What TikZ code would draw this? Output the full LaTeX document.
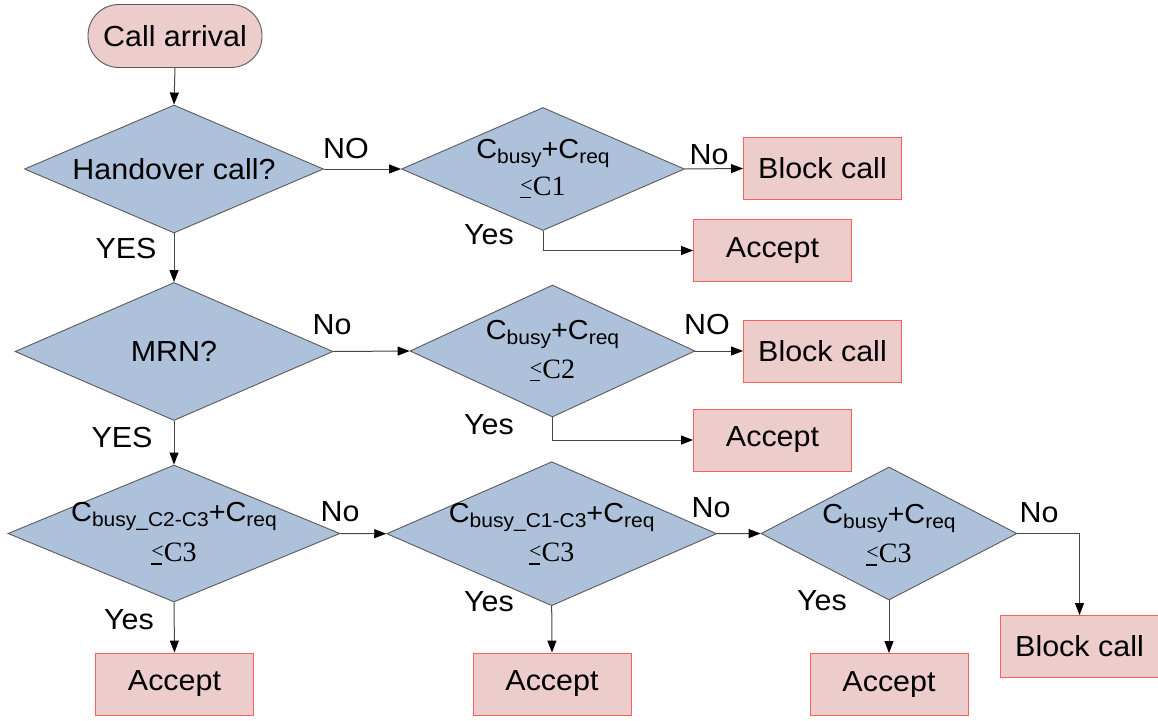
\documentclass[tikz,border=0pt]{standalone}
\usepackage{fontspec}
\setmainfont{Liberation Sans}[FakeStretch=1.05]
\newfontfamily\serifC{Liberation Serif}
\usetikzlibrary{shapes.geometric,arrows.meta}
\definecolor{diafill}{RGB}{174,193,218}
\definecolor{diaedge}{RGB}{90,90,90}
\definecolor{boxfill}{RGB}{237,204,204}
\definecolor{boxedge}{RGB}{250,95,95}
\definecolor{lineclr}{RGB}{70,70,70}
\newcommand{\mainsz}{\fontsize{29}{32}\selectfont}
\newcommand{\csz}{\fontsize{27.5}{30}\selectfont}
\newcommand{\subsz}{\fontsize{20}{20}\selectfont}
\newcommand{\Csub}[1]{C\raisebox{-5pt}{\subsz #1}}
\newcommand{\leqmark}{\rlap{\rule[-3pt]{10.5pt}{1.3pt}}\raisebox{3pt}{\fontsize{22}{22}\selectfont <}}
\newcommand{\leC}[1]{{\serifC\fontsize{28}{30}\selectfont \leqmark C#1}}
\tikzset{
  dia/.style={diamond, draw=diaedge, fill=diafill, line width=0.9pt, inner sep=0pt, aspect=2.2},
  box/.style={rectangle, draw=boxedge, fill=boxfill, line width=0.9pt, minimum width=158pt, minimum height=62pt, inner sep=0pt, font=\mainsz},
  term/.style={rectangle, rounded corners=31pt, draw=diaedge, fill=boxfill, line width=0.9pt, minimum width=174pt, minimum height=63pt, inner sep=0pt, font=\mainsz},
  txt/.style={inner sep=0pt, font=\mainsz},
  ctxt/.style={inner sep=0pt, font=\csz, anchor=base},
  lab/.style={inner sep=0pt, font=\mainsz},
  conn/.style={draw=lineclr, line width=1pt, -{Triangle[length=12pt,width=9pt,fill=black,color=black]}}
}
\begin{document}
\begin{tikzpicture}[x=1pt,y=-1pt]
\useasboundingbox (0,0) rectangle (1158,720);
% nodes
\node[term] (start) at (175,36) {Call arrival};
\node[dia, minimum width=299pt, minimum height=128pt] (d1) at (174,169) {};
\node[txt] (t1) at (d1) {Handover call?};
\node[dia, minimum width=283pt, minimum height=123pt] (d2) at (543,169) {};
\node[ctxt] (t2a) at ([yshift=11pt]d2.center) {\Csub{busy}+\Csub{req}};
\node[anchor=base, inner sep=0pt] (t2b) at ([yshift=-26pt]d2.center) {\leC{1}};
\node[box] (b1) at (822.5,168.5) {Block call};
\node[box] (a1) at (772.5,250.5) {Accept};
\node[dia, minimum width=318pt, minimum height=138pt] (d3) at (174,351.5) {};
\node[txt] (t3) at (d3) {MRN?};
\node[dia, minimum width=285pt, minimum height=132pt] (d4) at (552.5,351) {};
\node[ctxt] (t4a) at ([yshift=12pt]d4.center) {\Csub{busy}+\Csub{req}};
\node[anchor=base, inner sep=0pt] (t4b) at ([yshift=-27pt]d4.center) {\leC{2}};
\node[box] (b2) at (822.5,351) {Block call};
\node[box] (a2) at (772.5,440) {Accept};
\node[dia, minimum width=332pt, minimum height=137pt] (d5) at (174,533.5) {};
\node[ctxt] (t5a) at ([yshift=12pt]d5.center) {\Csub{busy\_C2-C3}+\Csub{req}};
\node[anchor=base, inner sep=0pt] (t5b) at ([yshift=-28pt]d5.center) {\leC{3}};
\node[dia, minimum width=330pt, minimum height=144pt] (d6) at (551.7,533.7) {};
\node[ctxt] (t6a) at ([yshift=11pt]d6.center) {\Csub{busy\_C1-C3}+\Csub{req}};
\node[anchor=base, inner sep=0pt] (t6b) at ([yshift=-28pt]d6.center) {\leC{3}};
\node[dia, minimum width=256pt, minimum height=133pt] (d7) at (889,533.5) {};
\node[ctxt] (t7a) at ([yshift=10pt]d7.center) {\Csub{busy}+\Csub{req}};
\node[anchor=base, inner sep=0pt] (t7b) at ([yshift=-29pt]d7.center) {\leC{3}};
\node[box] (a5) at (174.5,684) {Accept};
\node[box] (a6) at (552,684) {Accept};
\node[box] (a7) at (889,684.5) {Accept};
\node[box] (b3) at (1079.5,646.5) {Block call};
% connectors
\draw[conn] (start.south) -- (d1.north);
\draw[conn] (d1.east) -- (d2.west);
\draw[conn] (d2.east) -- (b1.west);
\draw[conn] (d2.south) |- (a1.west);
\draw[conn] (d1.south) -- (d3.north);
\draw[conn] (d3.east) -- (d4.west);
\draw[conn] (d4.east) -- (b2.west);
\draw[conn] (d4.south) |- (a2.west);
\draw[conn] (d3.south) -- (d5.north);
\draw[conn] (d5.east) -- (d6.west);
\draw[conn] (d5.south) -- (a5.north);
\draw[conn] (d6.east) -- (d7.west);
\draw[conn] (d6.south) -- (a6.north);
\draw[conn] (d7.east) -| (b3.north);
\draw[conn] (d7.south) -- (a7.north);
% labels
\node[lab] (l1) at (346,149) {NO};
\node[lab] (l2) at (709,155) {No};
\node[lab] (l3) at (489,235) {Yes};
\node[lab] (l4) at (126,249) {YES};
\node[lab] (l5) at (332,325) {No};
\node[lab] (l6) at (707,325) {NO};
\node[lab] (l7) at (489,425) {Yes};
\node[lab] (l8) at (122,438) {YES};
\node[lab] (l9) at (340,512) {No};
\node[lab] (l10) at (129,620) {Yes};
\node[lab] (l11) at (711,508) {No};
\node[lab] (l12) at (489,602) {Yes};
\node[lab] (l13) at (1039,513) {No};
\node[lab] (l14) at (822,601) {Yes};
\end{tikzpicture}
\end{document}
